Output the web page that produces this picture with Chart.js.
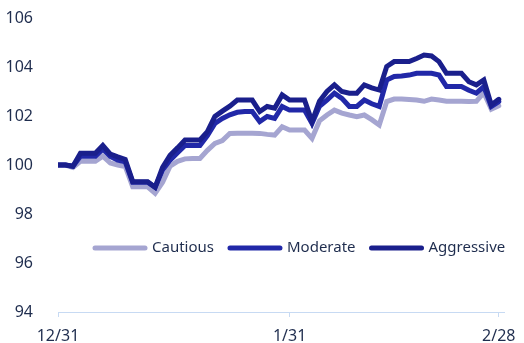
<!DOCTYPE html>
<html>
<head>
<meta charset="utf-8">
<script src="https://cdn.jsdelivr.net/npm/chart.js@4"></script>
<style>
  html, body { margin: 0; padding: 0; background: #fff; }
  #wrap { width: 524px; height: 343px; }
</style>
</head>
<body>
<div id="wrap"><canvas id="growthChart" width="524" height="343"></canvas></div>
<script>
// daily index values, 12/31 = day 0 ... 2/28 = day 59
const cautious = [
  100.0, 100.0, 99.9, 100.15, 100.15, 100.15, 100.36, 100.08, 100.0, 99.94,
  99.11, 99.11, 99.11, 98.85, 99.3, 99.95, 100.15, 100.25, 100.27, 100.27,
  100.6, 100.88, 101.0, 101.29, 101.3, 101.3, 101.3, 101.29, 101.25, 101.22,
  101.56, 101.43, 101.43, 101.43, 101.09, 101.8, 102.04, 102.24, 102.12, 102.04,
  101.97, 102.04, 101.85, 101.63, 102.59, 102.69, 102.69, 102.67, 102.65, 102.6,
  102.69, 102.65, 102.6, 102.6, 102.6, 102.59, 102.6, 102.95, 102.28, 102.42
];
const moderate = [
  100.0, 100.0, 99.95, 100.36, 100.36, 100.36, 100.65, 100.35, 100.2, 100.13,
  99.3, 99.3, 99.3, 99.09, 99.8, 100.2, 100.5, 100.8, 100.8, 100.8,
  101.2, 101.7, 101.9, 102.05, 102.15, 102.18, 102.18, 101.77, 101.98, 101.9,
  102.39, 102.24, 102.24, 102.24, 101.7, 102.4, 102.65, 102.93, 102.72, 102.39,
  102.39, 102.65, 102.5, 102.39, 103.47, 103.61, 103.63, 103.67, 103.74, 103.74,
  103.74, 103.67, 103.2, 103.2, 103.2, 103.05, 102.93, 103.2, 102.39, 102.59
];
const aggressive = [
  100.0, 100.0, 99.95, 100.48, 100.48, 100.48, 100.8, 100.44, 100.33, 100.23,
  99.32, 99.32, 99.32, 99.09, 99.9, 100.4, 100.7, 101.02, 101.02, 101.02,
  101.36, 101.98, 102.2, 102.4, 102.65, 102.65, 102.65, 102.18, 102.39, 102.32,
  102.86, 102.65, 102.65, 102.65, 101.77, 102.6, 103.0, 103.27, 103.0, 102.93,
  102.93, 103.27, 103.15, 103.06, 104.02, 104.22, 104.22, 104.22, 104.35, 104.49,
  104.45, 104.22, 103.74, 103.74, 103.74, 103.4, 103.27, 103.47, 102.45, 102.68
];
const seriesNames = ['Cautious', 'Moderate', 'Aggressive'];
const tickDays = [0, 31, 59];
const tickLabels = ['12/31', '1/31', '2/28'];

const textColor = '#1f2d4e';
const axisColor = '#c7daf3';

function toPoints(values) {
    return values.map((v, i) => ({ x: i, y: v }));
}

// legend drawn inside the plot, one row
const inlineLegend = {
    id: 'inlineLegend',
    afterDatasetsDraw(chart) {
        const ctx = chart.ctx;
        const area = chart.chartArea;
        let x = area.left + 37;
        const y = area.bottom - 64;
        ctx.save();
        ctx.font = '15px "Noto Sans"';
        ctx.textBaseline = 'middle';
        chart.data.datasets.forEach(ds => {
            ctx.strokeStyle = ds.borderColor;
            ctx.lineWidth = 5;
            ctx.lineCap = 'round';
            ctx.beginPath();
            ctx.moveTo(x, y);
            ctx.lineTo(x + 50, y);
            ctx.stroke();
            ctx.fillStyle = textColor;
            ctx.fillText(ds.label, x + 57, y);
            x += 57 + ctx.measureText(ds.label).width + 16;
        });
        ctx.restore();
    }
};

Chart.defaults.font.family = '"Noto Sans", sans-serif';
Chart.defaults.font.size = 16;
Chart.defaults.color = textColor;

const ctx = document.getElementById('growthChart').getContext('2d');
const growthChart = new Chart(ctx, {
    type: 'line',
    data: {
        datasets: [
            { label: seriesNames[0], data: toPoints(cautious), borderColor: '#a5a5d1', order: 3 },
            { label: seriesNames[1], data: toPoints(moderate), borderColor: '#2128a8', order: 2 },
            { label: seriesNames[2], data: toPoints(aggressive), borderColor: '#1a1f8c', order: 1 }
        ]
    },
    options: {
        responsive: false,
        animation: false,
        devicePixelRatio: 1,
        layout: { padding: { top: 18, right: 20, bottom: 0, left: 0 } },
        elements: {
            point: { radius: 0 },
            line: { borderWidth: 5, borderCapStyle: 'round', borderJoinStyle: 'miter', tension: 0 }
        },
        scales: {
            x: {
                type: 'linear',
                min: 0,
                max: 59.7,
                afterBuildTicks: s => { s.ticks = tickDays.map(v => ({ value: v })); },
                afterFit: s => { s.height = 31; s.paddingLeft = 0; s.paddingRight = 0; },
                ticks: {
                    autoSkip: false,
                    maxRotation: 0,
                    padding: 10,
                    callback: v => tickLabels[tickDays.indexOf(v)]
                },
                grid: { display: true, drawOnChartArea: false, drawTicks: true, tickLength: 5, color: axisColor },
                border: { display: true, color: axisColor, width: 1 }
            },
            y: {
                min: 94,
                max: 106,
                afterFit: s => { s.width = 58; s.paddingTop = 0; s.paddingBottom = 0; },
                ticks: { stepSize: 2, padding: 17 },
                grid: { display: false },
                border: { display: false }
            }
        },
        plugins: {
            legend: { display: false },
            tooltip: { enabled: false }
        }
    },
    plugins: [inlineLegend]
});
</script>
</body>
</html>
